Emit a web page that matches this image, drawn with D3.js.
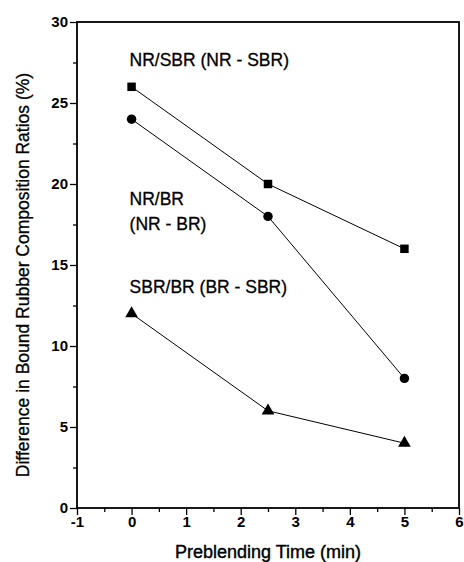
<!DOCTYPE html>
<html>
<head>
<meta charset="utf-8">
<script src="https://cdn.jsdelivr.net/npm/d3@7"></script>
<style>
  body { margin: 0; background: #fff; }
  svg text { font-family: Arial, "Liberation Sans", sans-serif; fill: #000; }
</style>
</head>
<body>
<svg id="chart" width="464" height="562"></svg>
<script>
'use strict';

// data
var times = [0, 2.5, 5];
var nrSbr = [26, 20, 16];
var nrBr = [24, 18, 8];
var sbrBr = [12, 6, 4];

var seriesLabels = [['NR/SBR (NR - SBR)'], ['NR/BR', '(NR - BR)'], ['SBR/BR (BR - SBR)']];
var xTicks = [-1, 0, 1, 2, 3, 4, 5, 6];
var yTicks = [0, 5, 10, 15, 20, 25, 30];

var width = 464, height = 562;
var margin = {top: 22, right: 5, bottom: 54, left: 77};

var svg = d3.select('#chart');

var x = d3.scaleLinear().domain([-1, 6]).range([margin.left, width - margin.right]);
var y = d3.scaleLinear().domain([0, 30]).range([height - margin.bottom, margin.top]);

// minor ticks
var xMinor = d3.range(-0.5, 6, 1);
var yMinor = d3.range(2.5, 30, 5);

svg.append('g')
    .attr('transform', 'translate(0,' + y(0) + ')')
    .call(d3.axisBottom(x).tickValues(xMinor).tickSize(4).tickFormat(''))
    .call(function(g) { g.select('.domain').remove(); });

svg.append('g')
    .attr('transform', 'translate(' + x(-1) + ',0)')
    .call(d3.axisLeft(y).tickValues(yMinor).tickSize(4).tickFormat(''))
    .call(function(g) { g.select('.domain').remove(); });

var xAxis = svg.append('g')
    .attr('transform', 'translate(0,' + y(0) + ')')
    .call(d3.axisBottom(x).tickValues(xTicks).tickSize(7).tickPadding(1)
        .tickFormat(function(d) { return String(d); }));
xAxis.select('.domain').remove();
xAxis.selectAll('text').attr('font-size', 15).attr('font-weight', 'bold').attr('font-family', 'Arial');

var yAxis = svg.append('g')
    .attr('transform', 'translate(' + x(-1) + ',0)')
    .call(d3.axisLeft(y).tickValues(yTicks).tickSize(7).tickPadding(2));
yAxis.select('.domain').remove();
yAxis.selectAll('text').attr('font-size', 15).attr('font-weight', 'bold').attr('font-family', 'Arial');

svg.selectAll('.tick line').attr('stroke', '#000').attr('stroke-width', 1.3);

// frame
svg.append('rect')
    .attr('x', x(-1)).attr('y', y(30))
    .attr('width', x(6) - x(-1)).attr('height', y(0) - y(30))
    .attr('fill', 'none').attr('stroke', '#000').attr('stroke-width', 1.8);

var line = d3.line()
    .x(function(d) { return x(d[0]); })
    .y(function(d) { return y(d[1]); });

var allSeries = [nrSbr, nrBr, sbrBr];
var symbols = [d3.symbolSquare, d3.symbolCircle, d3.symbolTriangle];
var symSizes = [72, 70, 70];

allSeries.forEach(function(vals, i) {
    var pts = times.map(function(t, j) { return [t, vals[j]]; });
    svg.append('path')
        .datum(pts)
        .attr('d', line)
        .attr('fill', 'none')
        .attr('stroke', '#000')
        .attr('stroke-width', 1);
    svg.selectAll('.pt' + i)
        .data(pts)
        .enter().append('path')
        .attr('class', 'pt' + i)
        .attr('transform', function(d) { return 'translate(' + x(d[0]) + ',' + y(d[1]) + ')'; })
        .attr('d', d3.symbol().type(symbols[i]).size(symSizes[i]))
        .attr('fill', '#000');
});

// series labels
var labelPos = [[0, 27.3], [0, 18.7], [0, 13.3]];
seriesLabels.forEach(function(lines, i) {
    var t = svg.append('text')
        .attr('x', x(labelPos[i][0]) - 2)
        .attr('y', y(labelPos[i][1]))
        .attr('font-size', 17.5)
        .attr('stroke', '#000').attr('stroke-width', 0.3);
    lines.forEach(function(s, k) {
        t.append('tspan')
            .attr('x', x(labelPos[i][0]) - 2)
            .attr('dy', k === 0 ? 0 : 25)
            .text(s);
    });
});

// axis titles
svg.append('text')
    .attr('x', 268)
    .attr('y', 558)
    .attr('text-anchor', 'middle')
    .attr('font-size', 18)
    .attr('stroke', '#000').attr('stroke-width', 0.4)
    .text('Preblending Time (min)');

svg.append('text')
    .attr('transform', 'translate(29,' + ((y(0) + y(30)) / 2 + 10) + ') rotate(-90)')
    .attr('text-anchor', 'middle')
    .attr('font-size', 17.5)
    .attr('stroke', '#000').attr('stroke-width', 0.3)
    .text('Difference in Bound Rubber Composition Ratios (%)');
</script>
</body>
</html>
